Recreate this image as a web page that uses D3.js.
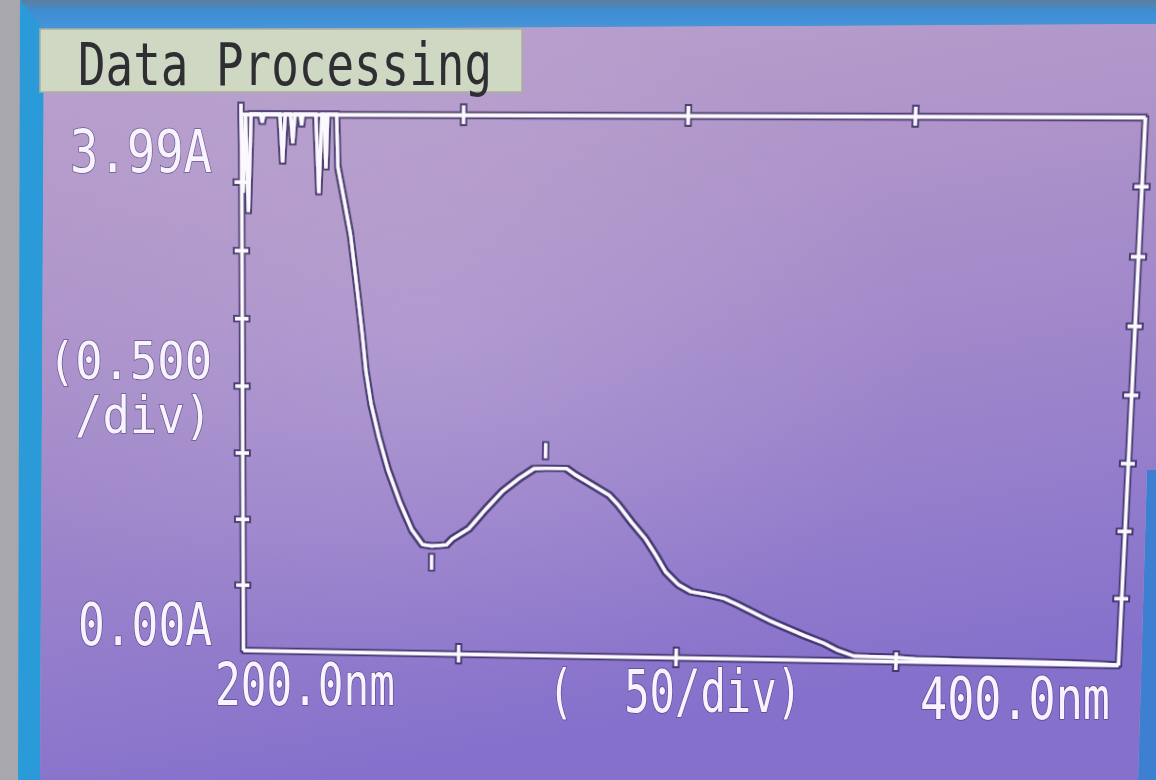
<!DOCTYPE html>
<html><head><meta charset="utf-8">
<script src="https://cdn.jsdelivr.net/npm/d3@7"></script>
<style>
html,body{margin:0;padding:0;width:1156px;height:780px;overflow:hidden;background:#a4a4aa;}
svg{position:absolute;left:0;top:0;}
#warp{position:absolute;left:0;top:0;width:1156px;height:780px;transform-origin:0 0;}
text{font-family:"DejaVu Sans Mono",monospace;}
</style></head><body>
<svg id="bg" width="1156" height="780"></svg>
<div id="warp"><svg id="chart" width="1156" height="780"></svg></div>
<svg id="fg" width="1156" height="780"></svg>
<script>
// ---------------- data ----------------
const title = "Data Processing";
const wavelengths = [200.0,200.4,201.0,201.6,202.3,204.4,204.8,205.2,208.8,209.4,210.0,211.2,211.7,212.2,213.4,213.7,214.0,216.9,217.6,218.3,218.8,219.2,219.6,221.6,
  221.9,223.4,224.8,225.8,226.7,227.6,228.4,229.6,231.4,233.6,236.4,239.1,241.6,243.7,247.1,248.4,252.2,256.1,259.7,263.5,266.9,269.5,274.3,276.5,280.2,284.1,286.3,289.3,292.6,295.0,297.3,300.3,303.1,306.9,310.8,313.8,321.4,329.2,333.8,336.8,340.6,348.8,354.3,370.0,390.4,400.0];
const absorbance = [3.99,3.42,3.99,3.28,3.99,3.99,3.93,3.99,3.99,3.64,3.99,3.99,3.78,3.99,3.99,3.91,3.99,3.99,3.42,3.99,3.99,3.60,3.99,3.99,
  3.61,3.36,3.12,2.86,2.62,2.37,2.12,1.875,1.63,1.38,1.135,0.935,0.825,0.815,0.825,0.87,0.95,1.10,1.23,1.33,1.405,1.41,1.41,1.36,1.29,1.215,1.14,1.015,0.89,0.77,0.645,0.55,0.50,0.479,0.451,0.408,0.287,0.181,0.125,0.075,0.033,0.03,0.02,0.015,0.01,0.0];
const peakWl = [269.5], peakAbs = [1.41];
const valleyWl = [243.7], valleyAbs = [0.815];
const xTicks = [250, 300, 350];
const yTicks = [0.5, 1.0, 1.5, 2.0, 2.5, 3.0, 3.5];
const yLabels = ["3.99A", "(0.500", "/div)", "0.00A"];
const xLabels = ["200.0nm", "(  50/div)", "400.0nm"];

// ---------------- background (photo of screen) ----------------
const bg = d3.select("#bg");
const defs = bg.append("defs");
const lg = defs.append("linearGradient").attr("id","scr").attr("x1","0").attr("y1","0").attr("x2","0.25").attr("y2","1");
[["0","#bba3cd"],["0.35","#ad93c9"],["0.7","#9a82cb"],["1","#8571cc"]].forEach(s=>lg.append("stop").attr("offset",s[0]).attr("stop-color",s[1]));
const rg = defs.append("radialGradient").attr("id","hl").attr("cx","0.35").attr("cy","0.42").attr("r","0.45");
rg.append("stop").attr("offset","0").attr("stop-color","#fff").attr("stop-opacity",0.12);
rg.append("stop").attr("offset","1").attr("stop-color","#fff").attr("stop-opacity",0);
const tg = defs.append("linearGradient").attr("id","topb").attr("x1","0").attr("y1","0").attr("x2","0").attr("y2","1");
tg.append("stop").attr("offset","0").attr("stop-color","#5a7f9e");
tg.append("stop").attr("offset","0.4").attr("stop-color","#3d8ed6");
tg.append("stop").attr("offset","1").attr("stop-color","#4a95d8");

bg.append("rect").attr("width",1156).attr("height",780).attr("fill","#a7a7ad");
bg.append("polygon").attr("points","20,0 1156,0 1156,24 44,30 40,780 18,780").attr("fill","#2a9bd8");
bg.append("polygon").attr("points","20,0 1156,0 1156,24 44,30").attr("fill","url(#topb)");
bg.append("polygon").attr("points","1147,470 1156,470 1156,780 1138,780").attr("fill","#3d80d2");
bg.append("polygon").attr("points","44,30 1156,24 1156,470 1147,470 1138,780 40,780").attr("fill","url(#scr)");
bg.append("polygon").attr("points","44,30 1156,24 1156,470 1147,470 1138,780 40,780").attr("fill","url(#hl)");

// ---------------- chart in screen coordinates, then warped ----------------
const L = 240, R = 1146, T = 114, B = 650;
const x = d3.scaleLinear().domain([200, 400]).range([L, R]);
const y = d3.scaleLinear().domain([0, 3.99]).range([B, T]);
const LW = 3.4, WHITE = "#fbf8ff";

const chart = d3.select("#chart");
const cdefs = chart.append("defs");
const f = cdefs.append("filter").attr("id","halo").attr("x","-5%").attr("y","-5%").attr("width","110%").attr("height","110%");
f.append("feMorphology").attr("in","SourceAlpha").attr("operator","dilate").attr("radius",1.5).attr("result","d");
f.append("feFlood").attr("flood-color","#25184f").attr("flood-opacity",0.7).attr("result","c");
f.append("feComposite").attr("in","c").attr("in2","d").attr("operator","in").attr("result","o");
const fm = f.append("feMerge"); fm.append("feMergeNode").attr("in","o"); fm.append("feMergeNode").attr("in","SourceGraphic");

const g = chart.append("g").attr("filter","url(#halo)");
function styleAxis(sel, dir){
  sel.select(".domain").attr("stroke",WHITE).attr("stroke-width",LW);
  sel.selectAll(".tick line").attr("stroke",WHITE).attr("stroke-width",LW);
  sel.selectAll(".tick text").remove();
  if(dir==="h") sel.selectAll(".tick line").attr("y1",-9).attr("y2",9);
  else sel.selectAll(".tick line").attr("x1",-7).attr("x2",7);
}
styleAxis(g.append("g").attr("transform",`translate(0,${B})`).call(d3.axisBottom(x).tickValues(xTicks).tickSizeOuter(0)),"h");
styleAxis(g.append("g").attr("transform",`translate(0,${T})`).call(d3.axisTop(x).tickValues(xTicks).tickSizeOuter(0)),"h");
styleAxis(g.append("g").attr("transform",`translate(${L},0)`).call(d3.axisLeft(y).tickValues(yTicks).tickSizeOuter(0)),"v");
styleAxis(g.append("g").attr("transform",`translate(${R},0)`).call(d3.axisRight(y).tickValues(yTicks).tickSizeOuter(0)),"v");
g.append("line").attr("x1",L).attr("x2",L).attr("y1",T-10).attr("y2",T).attr("stroke",WHITE).attr("stroke-width",LW);

const pts = wavelengths.map((w,i)=>[w, absorbance[i]]);
g.append("path").datum(pts)
  .attr("d", d3.line().x(d=>x(d[0])).y(d=>y(d[1])))
  .attr("fill","none").attr("stroke",WHITE).attr("stroke-width",LW).attr("stroke-linejoin","miter");

peakWl.forEach((w,i)=>{
  g.append("line").attr("x1",x(w)).attr("x2",x(w)).attr("y1",y(peakAbs[i])-10).attr("y2",y(peakAbs[i])-25)
   .attr("stroke",WHITE).attr("stroke-width",LW);
});
valleyWl.forEach((w,i)=>{
  g.append("line").attr("x1",x(w)).attr("x2",x(w)).attr("y1",y(valleyAbs[i])+9).attr("y2",y(valleyAbs[i])+24)
   .attr("stroke",WHITE).attr("stroke-width",LW);
});

// perspective of the photo: solve homography from plot rectangle to observed quad
function homography(src, dst){
  const A=[], b=[];
  for(let i=0;i<4;i++){
    const [sx,sy]=src[i], [u,v]=dst[i];
    A.push([sx,sy,1,0,0,0,-u*sx,-u*sy]); b.push(u);
    A.push([0,0,0,sx,sy,1,-v*sx,-v*sy]); b.push(v);
  }
  const n=8;
  for(let c=0;c<n;c++){
    let p=c; for(let r=c+1;r<n;r++) if(Math.abs(A[r][c])>Math.abs(A[p][c])) p=r;
    [A[c],A[p]]=[A[p],A[c]]; [b[c],b[p]]=[b[p],b[c]];
    for(let r=0;r<n;r++){ if(r===c) continue; const k=A[r][c]/A[c][c]; for(let j=c;j<n;j++) A[r][j]-=k*A[c][j]; b[r]-=k*b[c]; }
  }
  return b.map((v,i)=>v/A[i][i]);
}
const h = homography([[L,T],[R,T],[L,B],[R,B]], [[241,114],[1145,117],[243,650],[1118,665]]);
document.getElementById("warp").style.transform =
  `matrix3d(${h[0]},${h[3]},0,${h[6]},${h[1]},${h[4]},0,${h[7]},0,0,1,0,${h[2]},${h[5]},0,1)`;

// ---------------- overlay texts ----------------
const fg = d3.select("#fg");
fg.append("rect").attr("x",40).attr("y",29).attr("width",482).attr("height",63)
  .attr("fill","#cfd8c2").attr("stroke","#a9b19c").attr("stroke-width",1.5);
fg.append("text").attr("x",78).attr("y",85).attr("font-size",58).attr("textLength",414)
  .attr("lengthAdjust","spacingAndGlyphs").attr("fill","#2f2f33").text(title);

const lab = [
  {t:yLabels[0], x:70, y:172, w:142, s:58},
  {t:yLabels[1], x:48, y:379, w:164, s:51},
  {t:yLabels[2], x:75, y:433, w:137, s:51},
  {t:yLabels[3], x:78, y:645, w:134, s:58},
  {t:xLabels[0], x:215, y:705, w:180, s:58},
  {t:xLabels[1], x:548, y:712, w:254, s:58},
  {t:xLabels[2], x:920, y:719, w:190, s:58}
];
fg.selectAll("text.lab").data(lab).join("text").attr("class","lab")
  .attr("x",d=>d.x).attr("y",d=>d.y).attr("font-size",d=>d.s)
  .attr("textLength",d=>d.w).attr("lengthAdjust","spacingAndGlyphs")
  .attr("xml:space","preserve").style("white-space","pre")
  .attr("fill","#f7f3ff").attr("stroke","#3a2b66").attr("stroke-width",1.6).attr("stroke-opacity",0.6)
  .attr("paint-order","stroke")
  .text(d=>d.t);
</script>
</body></html>
